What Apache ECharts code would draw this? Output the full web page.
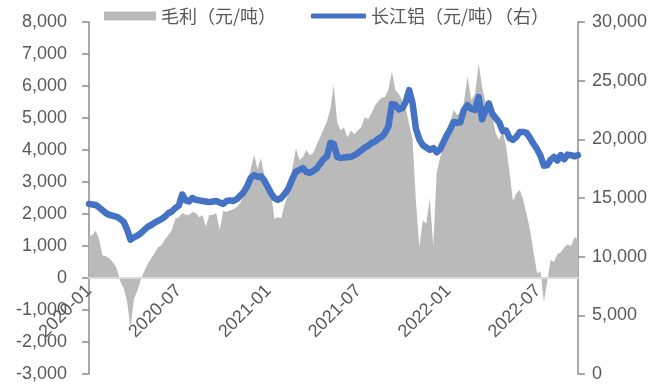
<!DOCTYPE html>
<html>
<head>
<meta charset="utf-8">
<script src="https://cdn.jsdelivr.net/npm/echarts@6/dist/echarts.min.js"></script>
<style>
  html, body { margin: 0; padding: 0; background: #fff; }
  #chart { width: 668px; height: 385px; }
</style>
</head>
<body>
<div id="chart"></div>
<script>
// Weekly observations starting 2020-01-01
const startYear = 2020, startMonth = 0, startDay = 1;

// 毛利（元/吨） – left axis
const grossMargin = [
  1300, 1340, 1480, 1200, 700, 680, 600, 480, 300, -120,
  -320, -750, -1580, -650, -400, -50, 220, 450, 620, 780,
  960, 1030, 1200, 1340, 1500, 1850, 1900, 2030, 1980, 1970,
  2060, 2030, 1900, 1970, 1600, 1970, 1970, 2030, 1500, 2100,
  2060, 2120, 2150, 2220, 2340, 2590, 2840, 3400, 3850, 3400,
  3750, 3220, 2840, 2650, 1850, 1900, 1870, 2300, 2650, 3400,
  4050, 3690, 3780, 4000, 3840, 3900, 4150, 4400, 4650, 4900,
  5300, 6050, 4850, 4620, 4700, 4400, 4600, 4500, 4620, 4720,
  5030, 4950, 5150, 5380, 5520, 5630, 5660, 5880, 6450, 5870,
  5750, 5550, 5310, 4800, 4350, 2400, 970, 1800, 1700, 2500,
  1000, 3300, 3750, 4200, 4450, 4840, 5250, 5100, 5150, 5470,
  6300, 5560, 5750, 6700, 5970, 5500, 5560, 5050, 4530, 4310,
  4620, 4100, 3300, 2400, 2650, 2750, 2450, 2000, 1500, 800,
  150, 200, -750, -100, 560, 500, 750, 800, 950, 1050,
  1000, 1280, 1200
];

// 长江铝（元/吨） – right axis
const aluminiumPrice = [
  14500, 14450, 14400, 14200, 13950, 13700, 13550, 13480, 13400, 13200,
  12950, 12300, 11450, 11650, 11800, 12000, 12300, 12550, 12700, 12900,
  13050, 13200, 13400, 13700, 13850, 14150, 14350, 15300, 14800, 14700,
  15000, 14850, 14800, 14750, 14700, 14650, 14700, 14750, 14600, 14500,
  14750, 14800, 14750, 14900, 15200, 15500, 16000, 16700, 16950, 16800,
  16850, 16500, 15950, 15400, 15000, 14850, 15000, 15350, 15800, 16600,
  17250, 17400, 17550, 17220, 17150, 17300, 17500, 17900, 18300, 18550,
  19700, 19600, 18500, 18420, 18450, 18500, 18500, 18650, 18840, 19050,
  19300, 19450, 19680, 19800, 20050, 20200, 20550, 21100, 23000, 22950,
  22550, 22650, 23200, 24200, 23100, 20900, 20000, 19500, 19300, 19100,
  19250, 18900, 19150, 19750, 20350, 20850, 21480, 21400, 21450, 22500,
  22900, 22600, 22500, 23600, 21700, 22450, 23050, 22200, 21800, 21450,
  20700, 20750, 20100, 19950, 20200, 20630, 20630, 20550, 20100, 19600,
  19150, 18600, 17750, 17800, 18250, 18500, 18200, 18660, 18300, 18700,
  18650, 18550, 18650
];

// Date axis: tick labels every six months
const dateTicks = ['2020-01', '2020-07', '2021-01', '2021-07', '2022-01', '2022-07'];
const tickStepMonths = 6;
const seriesNames = ['毛利（元/吨）', '长江铝（元/吨）（右）'];

// Dates are placed on a continuous month scale (months since Jan 2020,
// with the day as a fraction of its month).
const toMonthScale = d => {
  const dim = new Date(d.getFullYear(), d.getMonth() + 1, 0).getDate();
  return (d.getFullYear() - startYear) * 12 + d.getMonth() + (d.getDate() - 1) / dim;
};
const dates = grossMargin.map((_, i) => new Date(startYear, startMonth, startDay + 7 * i));
const xs = dates.map(toMonthScale);
const axisMin = 0;
const axisMax = xs[xs.length - 1];

const leftMin = -3000, leftMax = 8000;
const gridTop = 22, gridBottom = 11, chartHeight = 385;

const labelFont = 'Liberation Sans, Arial, sans-serif';
const cjkFont = 'Noto Sans CJK SC, sans-serif';
const textColor = '#595959';
const axisGray = '#8c8c8c';

const fmtThousands = v => {
  const s = Math.abs(v).toString().replace(/\B(?=(\d{3})+(?!\d))/g, ',');
  return (v < 0 ? '-' : '') + s;
};
const fmtMonth = v => {
  const m = Math.round(v);
  const label = (startYear + Math.floor(m / 12)) + '-' + String(m % 12 + 1).padStart(2, '0');
  return dateTicks.includes(label) ? label : '';
};

// The date labels hang just under the zero line of the left axis.
const plotHeight = chartHeight - gridTop - gridBottom;
const zeroLift = plotHeight * (0 - leftMin) / (leftMax - leftMin);

const xBase = {
  type: 'value',
  min: axisMin,
  max: axisMax,
  interval: tickStepMonths,
  splitLine: { show: false },
  axisTick: { show: false }
};

const chart = echarts.init(document.getElementById('chart'), null, { renderer: 'canvas' });
chart.setOption({
  animation: false,
  backgroundColor: '#ffffff',
  grid: { left: 89, right: 90, top: gridTop, bottom: gridBottom, containLabel: false, outerBoundsMode: 'none' },
  legend: [
    {
      data: [seriesNames[0]],
      left: 104, top: 7, padding: 0,
      icon: 'rect', itemWidth: 52, itemHeight: 9,
      textStyle: { fontFamily: cjkFont, fontSize: 18, color: textColor },
      selectedMode: false
    },
    {
      data: [seriesNames[1]],
      left: 311, top: 7, padding: 0,
      icon: 'roundRect', itemWidth: 55, itemHeight: 5,
      itemStyle: { borderWidth: 0 },
      textStyle: { fontFamily: cjkFont, fontSize: 18, color: textColor },
      selectedMode: false
    }
  ],
  xAxis: [
    Object.assign({}, xBase, {
      z: 3,
      axisLine: { onZero: true, onZeroAxisIndex: 0, lineStyle: { color: '#d9d9d9', width: 2 } },
      axisLabel: { show: false }
    }),
    Object.assign({}, xBase, {
      position: 'bottom',
      offset: -zeroLift,
      axisLine: { show: false, onZero: false },
      axisLabel: {
        rotate: 45,
        margin: 10,
        showMaxLabel: false,
        fontFamily: labelFont,
        fontSize: 18,
        color: textColor,
        formatter: fmtMonth
      }
    })
  ],
  yAxis: [
    {
      type: 'value',
      min: leftMin, max: leftMax, interval: 1000,
      axisLine: { show: true, onZero: false, lineStyle: { color: axisGray, width: 1.5 } },
      axisTick: { show: true, length: 7, lineStyle: { color: axisGray, width: 1.5 } },
      splitLine: { show: false },
      axisLabel: { margin: 22, fontFamily: labelFont, fontSize: 18, color: textColor, formatter: fmtThousands }
    },
    {
      type: 'value',
      position: 'right',
      min: 0, max: 30000, interval: 5000,
      axisLine: { show: true, onZero: false, lineStyle: { color: axisGray, width: 1.5 } },
      axisTick: { show: true, length: 7, lineStyle: { color: axisGray, width: 1.5 } },
      splitLine: { show: false },
      axisLabel: { margin: 14, fontFamily: labelFont, fontSize: 18, color: textColor, formatter: fmtThousands }
    }
  ],
  series: [
    {
      name: seriesNames[0],
      type: 'line',
      xAxisIndex: 0,
      yAxisIndex: 0,
      data: xs.map((x, i) => [x, grossMargin[i]]),
      symbol: 'none',
      color: '#bababa',
      lineStyle: { width: 0, color: '#bababa' },
      areaStyle: { color: '#bababa', opacity: 1 },
      z: 1
    },
    {
      name: seriesNames[1],
      type: 'line',
      xAxisIndex: 0,
      yAxisIndex: 1,
      data: xs.map((x, i) => [x, aluminiumPrice[i]]),
      symbol: 'none',
      color: '#4472c4',
      lineStyle: { width: 6.5, color: '#4472c4', cap: 'round', join: 'round' },
      z: 4
    }
  ]
});
</script>
</body>
</html>
